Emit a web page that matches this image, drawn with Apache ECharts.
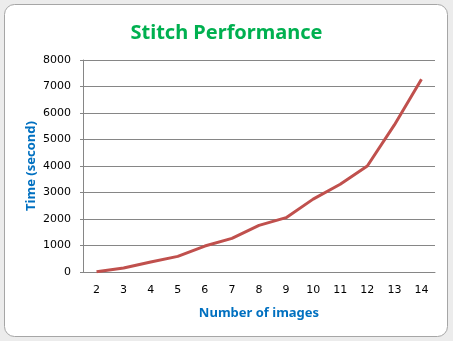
<!DOCTYPE html>
<html>
<head>
<meta charset="utf-8">
<script src="https://cdn.jsdelivr.net/npm/echarts@6/dist/echarts.min.js"></script>
<style>
html,body{margin:0;padding:0;background:#ececec;}
#c{width:453px;height:341px;}
</style>
</head>
<body>
<div id="c"></div>
<script>
const categories = ['2','3','4','5','6','7','8','9','10','11','12','13','14'];
const timeSeconds = [10, 150, 380, 590, 980, 1270, 1760, 2050, 2750, 3310, 4000, 5550, 7270];
const yMin = 0, yMax = 8000, yStep = 1000;

const chart = echarts.init(document.getElementById('c'), null, {renderer:'canvas'});
chart.setOption({
  animation:false,
  backgroundColor:'#ececec',
  graphic:[{
    type:'rect', left:4, top:4, z:-10,
    shape:{width:443, height:332, r:10},
    style:{fill:'#ffffff', stroke:'#a6a6a6', lineWidth:1}
  }],
  title:{
    text:'Stitch Performance', left:'center', top:18,
    textStyle:{color:'#00B050', fontFamily:'Noto Sans', fontWeight:'bold', fontSize:20}
  },
  grid:{left:83, right:18, top:60, bottom:69},
  xAxis:{
    type:'category', data:categories, boundaryGap:true,
    name:'Number of images', nameLocation:'middle', nameGap:35,
    nameTextStyle:{color:'#0070C0', fontFamily:'Noto Sans', fontWeight:'bold', fontSize:13},
    axisLine:{show:true, lineStyle:{color:'#868686', width:1}},
    axisTick:{show:false},
    axisLabel:{color:'#000', fontFamily:'DejaVu Sans', fontSize:11, margin:13}
  },
  yAxis:{
    type:'value', min:yMin, max:yMax, interval:yStep,
    name:'Time (second)', nameLocation:'middle', nameGap:45, nameMoveOverlap:false,
    nameTextStyle:{color:'#0070C0', fontFamily:'Noto Sans', fontWeight:'bold', fontSize:13},
    axisLine:{show:true, lineStyle:{color:'#868686', width:1}},
    axisTick:{show:true, length:3, lineStyle:{color:'#868686'}},
    axisLabel:{color:'#000', fontFamily:'DejaVu Sans', fontSize:11, margin:12, formatter:function(v){return String(v);}},
    splitLine:{show:true, lineStyle:{color:'#868686', width:1}}
  },
  series:[{
    type:'line', data:timeSeconds, showSymbol:false, symbol:'none',
    lineStyle:{color:'#C0504D', width:3}
  }]
});
</script>
</body>
</html>
